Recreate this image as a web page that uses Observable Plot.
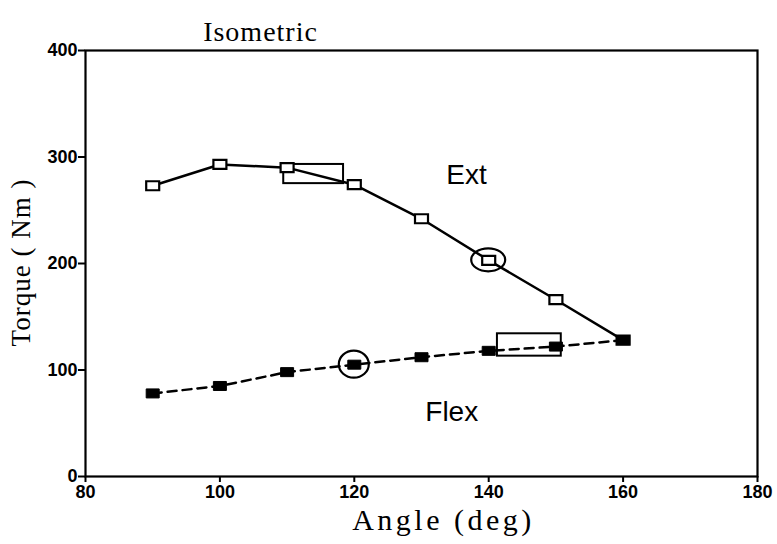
<!DOCTYPE html>
<html><head><meta charset="utf-8">
<script src="https://cdn.jsdelivr.net/npm/d3@7"></script>
<script src="https://cdn.jsdelivr.net/npm/@observablehq/plot@0.6"></script>
<style>body{margin:0;background:#fff}</style>
</head><body><div id="chart"></div>
<script>
const angles = [90, 100, 110, 120, 130, 140, 150, 160];
const extTorque = [273, 293, 290, 274, 242, 203, 166, 128];
const flexTorque = [78, 85, 98, 105, 112, 118, 122, 128];
const xTicks = [80, 100, 120, 140, 160, 180];
const yTicks = [0, 100, 200, 300, 400];
const boxAngle1 = [109.5, 141.3];
const boxAngle2 = [118.4, 150.8];
const boxTorque1 = [275, 113];
const boxTorque2 = [293, 134];
const ringAngle = [140, 120];
const ringTorque = [203, 105];
const seriesLabels = ["Ext", "Flex"];
const labelAngle = [136.7, 134.5];
const labelTorque = [283.5, 61];

const ext = angles.map((a, i) => ({angle: a, torque: extTorque[i]}));
const flex = angles.map((a, i) => ({angle: a, torque: flexTorque[i]}));
const boxes = boxAngle1.map((a, i) => ({x1: a, x2: boxAngle2[i], y1: boxTorque1[i], y2: boxTorque2[i]}));
const rings = ringAngle.map((a, i) => ({angle: a, torque: ringTorque[i], rx: i === 0 ? 17 : 15, ry: i === 0 ? 11.5 : 13.5}));
const labels = seriesLabels.map((t, i) => ({text: t, angle: labelAngle[i], torque: labelTorque[i]}));

const rectSymbol = {draw(ctx, size) { const w = 13, h = 9; ctx.rect(-w / 2, -h / 2, w, h); }};
const serif = "'Liberation Serif', 'Times New Roman', serif";
const sans = "'Liberation Sans', Arial, Helvetica, sans-serif";

const ringMark = Plot.dot(rings, {
  x: "angle", y: "torque",
  render(index, scales, values, dims, context) {
    const g = d3.create("svg:g");
    for (const i of index) {
      g.append("ellipse")
        .attr("cx", scales.x(rings[i].angle))
        .attr("cy", scales.y(rings[i].torque))
        .attr("rx", rings[i].rx).attr("ry", rings[i].ry)
        .attr("fill", "none").attr("stroke", "black").attr("stroke-width", 2.2);
    }
    return g.node();
  }
});

const chart = Plot.plot({
  width: 777, height: 544,
  marginLeft: 85, marginRight: 20, marginTop: 50, marginBottom: 68,
  x: {domain: [80, 180]},
  y: {domain: [0, 400]},
  style: {background: "white", color: "black"},
  marks: [
    Plot.axisX({ticks: xTicks, tickSize: 6, tickPadding: 3, fontSize: 18, fontWeight: "bold", fontFamily: sans, label: null, strokeWidth: 2}),
    Plot.axisY({ticks: yTicks, tickSize: 7, tickPadding: 1, fontSize: 18, fontWeight: "bold", fontFamily: sans, label: null, strokeWidth: 2}),
    Plot.frame({stroke: "black", strokeWidth: 2.2}),
    Plot.line(ext, {x: "angle", y: "torque", stroke: "black", strokeWidth: 2.5}),
    Plot.line(flex, {x: "angle", y: "torque", stroke: "black", strokeWidth: 2.5, strokeDasharray: "9,6"}),
    Plot.rect(boxes, {x1: "x1", x2: "x2", y1: "y1", y2: "y2", fill: "none", stroke: "black", strokeWidth: 2}),
    ringMark,
    Plot.dot(ext, {x: "angle", y: "torque", symbol: rectSymbol, r: 5, fill: "white", stroke: "black", strokeWidth: 2.2}),
    Plot.dot(flex, {x: "angle", y: "torque", symbol: rectSymbol, r: 5, fill: "black", stroke: "black", strokeWidth: 1}),
    Plot.text(labels, {x: "angle", y: "torque", text: "text", fontSize: 28, fontFamily: sans, fill: "black"}),
    Plot.text(["Isometric"], {frameAnchor: "top", textAnchor: "middle", dx: -161, dy: -29, fontSize: 28, fontFamily: serif, fill: "black"}),
    Plot.text(["Angle (deg)"], {frameAnchor: "bottom", textAnchor: "middle", dx: 22, dy: 53, fontSize: 30, fontFamily: serif, fill: "black"}),
    Plot.text(["Torque ( Nm )"], {frameAnchor: "left", textAnchor: "middle", rotate: -90, dx: -64, dy: -1, fontSize: 27, fontFamily: serif, fill: "black"})
  ]
});
d3.select(chart).selectAll("text").filter(function() { return /Angle|Torque|Isometric/.test(this.textContent); })
  .style("letter-spacing", function() { return /Angle/.test(this.textContent) ? "3.5px" : "1px"; });
document.getElementById("chart").append(chart);
</script></body></html>
